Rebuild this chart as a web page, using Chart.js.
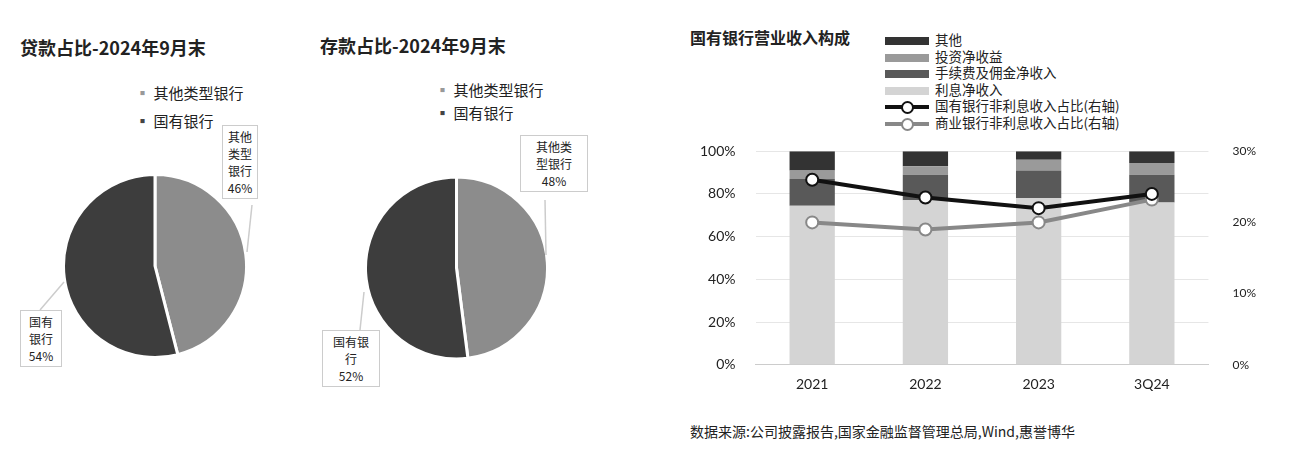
<!DOCTYPE html>
<html><head><meta charset="utf-8">
<script src="https://cdn.jsdelivr.net/npm/chart.js@4"></script>
<style>
body{margin:0;width:1296px;height:474px;background:#fff;font-family:"Noto Sans CJK SC",sans-serif;position:relative;overflow:hidden;color:#222}
.a{position:absolute}
.t{font-weight:bold;font-size:18px}
.lg{font-size:15px}
.box{position:absolute;border:1.5px solid #ccc;background:#fff;font-size:12px;text-align:center;line-height:17px;padding:2px 3px}
.lg2{font-size:13.5px;line-height:16.5px}
.sw{display:inline-block;width:44px;height:8px;vertical-align:middle;margin-right:6px}
</style></head><body>
<div class="a t" style="left:20px;top:34px">贷款占比-2024年9月末</div>
<div class="a t" style="left:320px;top:32px">存款占比-2024年9月末</div>
<div class="a lg" style="left:135px;top:82px"><span style="color:#999">▪</span> 其他类型银行</div>
<div class="a lg" style="left:135px;top:110px"><span style="color:#444">▪</span> 国有银行</div>
<div class="a lg" style="left:435px;top:79px"><span style="color:#999">▪</span> 其他类型银行</div>
<div class="a lg" style="left:435px;top:102px"><span style="color:#444">▪</span> 国有银行</div>
<div class="a" style="left:62px;top:173px;width:186px;height:186px"><canvas id="p1"></canvas></div>
<div class="a" style="left:364px;top:175px;width:185px;height:186px"><canvas id="p2"></canvas></div>
<svg class="a" style="left:0;top:0" width="620" height="474"><g stroke="#ccc" stroke-width="1.5" fill="none">
<polyline points="252,205 247,252"/><polyline points="40,310 64,282"/>
<polyline points="545,200 546,255"/><polyline points="360,330 364,292"/></g></svg>
<div class="box" style="left:222px;top:125px;width:28px">其他<br>类型<br>银行<br>46%</div>
<div class="box" style="left:20px;top:310px;width:34px">国有<br>银行<br>54%</div>
<div class="box" style="left:520px;top:135px;width:60px">其他类<br>型银行<br>48%</div>
<div class="box" style="left:322px;top:330px;width:50px">国有银<br>行<br>52%</div>

<div class="a t" style="left:690px;top:25px;font-size:16px">国有银行营业收入构成</div>
<div class="a lg2" style="left:885px;top:31px">
<div><span class="sw" style="background:#333"></span>其他</div>
<div><span class="sw" style="background:#9a9a9a"></span>投资净收益</div>
<div><span class="sw" style="background:#595959"></span>手续费及佣金净收入</div>
<div><span class="sw" style="background:#d4d4d4"></span>利息净收入</div>
<div><span class="sw" style="background:none;height:12px;position:relative"><span style="position:absolute;left:0;top:4px;width:44px;height:4px;background:#111"></span><span style="position:absolute;left:16px;top:0;width:9px;height:9px;border:2px solid #111;border-radius:50%;background:#fff"></span></span>国有银行非利息收入占比(右轴)</div>
<div><span class="sw" style="background:none;height:12px;position:relative"><span style="position:absolute;left:0;top:4px;width:44px;height:4px;background:#888"></span><span style="position:absolute;left:16px;top:0;width:9px;height:9px;border:2px solid #888;border-radius:50%;background:#fff"></span></span>商业银行非利息收入占比(右轴)</div>
</div>
<div class="a" style="left:680px;top:120px;width:600px;height:276px"><canvas id="b"></canvas></div>
<div class="a" style="left:690px;top:421px;font-size:14px">数据来源:公司披露报告,国家金融监督管理总局,Wind,惠誉博华</div>
<script>
const pieLabels=['其他类型银行','国有银行'];
const loanShare=[46,54];
const depositShare=[48,52];
const years=['2021','2022','2023','3Q24'];
const interestIncome=[74.5,77,78,76];
const feeIncome=[12.5,12,13,13];
const investIncome=[4,4,5,5.5];
const otherIncome=[9,7,4,5.5];
const stateNonInterest=[26,23.5,22,24];
const commNonInterest=[20,19,20,23.2];

Chart.defaults.font.family='Lato, "Noto Sans CJK SC", sans-serif';
function pie(id,d){new Chart(document.getElementById(id),{type:'pie',data:{labels:pieLabels,datasets:[{data:d,backgroundColor:['#8c8c8c','#3d3d3d'],borderColor:'#fff',borderWidth:3}]},options:{responsive:true,maintainAspectRatio:false,animation:false,plugins:{legend:{display:false},tooltip:{enabled:false}}}});}
pie('p1',loanShare);pie('p2',depositShare);
const bp={type:'bar',stack:'s',order:5,categoryPercentage:1,barPercentage:0.4};
new Chart(document.getElementById('b'),{data:{labels:years,datasets:[
{type:'line',data:stateNonInterest,yAxisID:'y1',borderColor:'#111',borderWidth:4,pointRadius:6,pointBackgroundColor:'#fff',pointBorderColor:'#111',pointBorderWidth:2,order:0},
{type:'line',data:commNonInterest,yAxisID:'y1',borderColor:'#888',borderWidth:4,pointRadius:6,pointBackgroundColor:'#fff',pointBorderColor:'#888',pointBorderWidth:2,order:1},
{...bp,data:interestIncome,backgroundColor:'#d4d4d4'},
{...bp,data:feeIncome,backgroundColor:'#595959'},
{...bp,data:investIncome,backgroundColor:'#9a9a9a'},
{...bp,data:otherIncome,backgroundColor:'#333'}]},
options:{responsive:true,maintainAspectRatio:false,animation:false,layout:{padding:{top:5}},
plugins:{legend:{display:false},tooltip:{enabled:false}},
scales:{x:{stacked:true,grid:{display:false},border:{color:'#ccc'},ticks:{color:'#222',font:{size:14}}},
y:{stacked:true,min:0,max:100,ticks:{stepSize:20,callback:v=>v+'%',color:'#222',font:{size:14},padding:20},grid:{color:'#e6e6e6',drawTicks:false},border:{display:false}},
y1:{position:'right',min:0,max:30,ticks:{stepSize:10,callback:v=>v+'%',color:'#222',font:{size:12},padding:24},grid:{display:false,drawTicks:false},border:{display:false}}}}});
</script></body></html>
